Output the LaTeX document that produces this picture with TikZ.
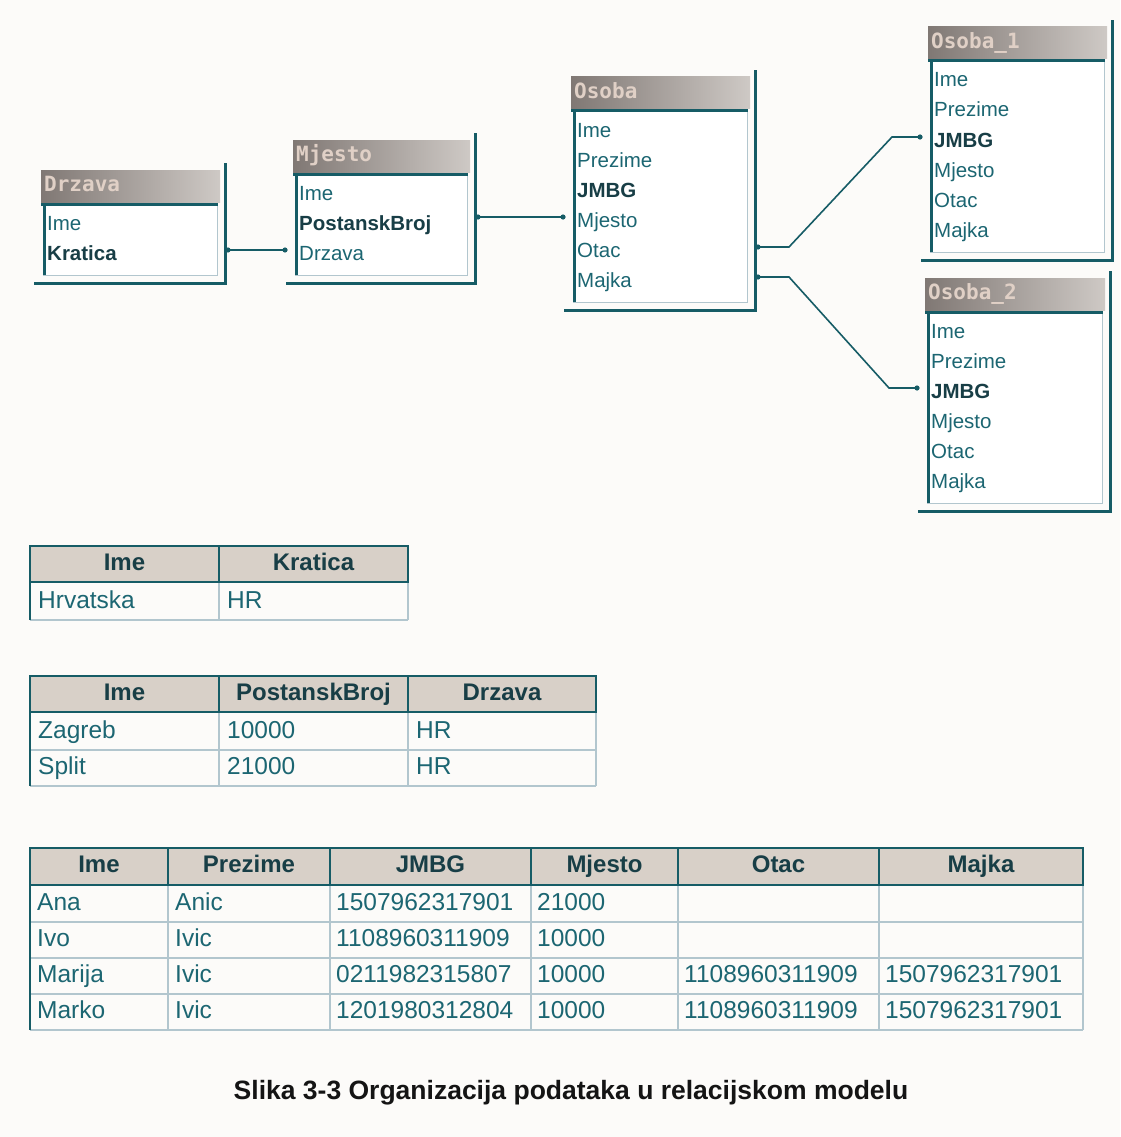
\documentclass[tikz,border=0pt]{standalone}
\usepackage{fontspec}
\setmainfont{Liberation Sans}
\newfontfamily\titlefont{DejaVu Sans Mono}
\usetikzlibrary{calc}
\definecolor{teal1}{RGB}{22,92,102}
\definecolor{txt}{RGB}{28,102,114}
\definecolor{txtb}{RGB}{24,62,70}
\definecolor{tbarL}{RGB}{128,120,116}
\definecolor{tbarR}{RGB}{206,201,197}
\definecolor{ttl}{RGB}{224,208,198}
\definecolor{hdr}{RGB}{216,208,200}
\definecolor{gridc}{RGB}{178,198,206}
\definecolor{bg}{RGB}{252,251,249}
\tikzset{
  frame/.style={teal1, line width=3},
  conn/.style={teal1, line width=1.6},
  boxtitle/.style={anchor=west, inner sep=1, text height=15, text depth=4, font=\titlefont\bfseries\fontsize{21}{24}\selectfont, text=ttl},
  boxrow/.style={anchor=west, inner sep=1, text height=14.5, text depth=4.5, font=\fontsize{20.5}{24}\selectfont, text=txt},
  hdrtxt/.style={inner sep=0, text height=17.5, text depth=5, font=\bfseries\fontsize{24}{28}\selectfont, text=txtb},
  datatxt/.style={anchor=west, inner sep=0, text height=17.5, text depth=5, font=\fontsize{24.5}{28}\selectfont, text=txt},
  hdrline/.style={teal1, line width=2.5},
  gridline/.style={gridc, line width=1.3},
}
\newcommand\erbox[7]{%
  \pgfmathsetmacro\ibot{#3+55+(#5-1)*30+20}%
  \fill[white] (#2,#3+33) rectangle (#4-8,\ibot);
  \draw[gridc,line width=1] (#2,\ibot) -- (#4-8,\ibot) -- (#4-8,#3+33);
  \shade[left color=tbarL,right color=tbarR] (#2-2,#3) rectangle (#4-5,#3+32);
  \node[boxtitle] (#1) at (#2,#3+16) {#6};
  \draw[frame] (#2-2,#3+34) -- (#4-7,#3+34);
  \draw[frame] (#2+1,#3+34) -- (#2+1,\ibot);
  \draw[frame] (#2-9,\ibot+8) -- (#4,\ibot+8) -- (#4,#3-7);
  \foreach \t/\b [count=\i] in {#7} {
    \node[boxrow] (#1-\i) at (#2+3,#3+55+\i*30-30) {\ifnum\b=1 \bfseries\color{txtb}\fi\t};
    \coordinate (#1-l\i) at (#2-10,#3+50+\i*30-30);
    \coordinate (#1-r\i) at (#4+3,#3+50+\i*30-30);
  }%
}
\begin{document}
\begin{tikzpicture}[x=1pt,y=-1pt]
\fill[bg] (0,0) rectangle (1120,1137);
\useasboundingbox (0,0) rectangle (1120,1137);

% ER boxes
\erbox{drzava}{43}{170}{225}{2}{Drzava}{Ime/0,Kratica/1}
\erbox{mjesto}{295}{140}{475}{3}{Mjesto}{Ime/0,PostanskBroj/1,Drzava/0}
\erbox{osoba}{573}{77}{755}{6}{Osoba}{Ime/0,Prezime/0,JMBG/1,Mjesto/0,Otac/0,Majka/0}
\erbox{osobaA}{930}{27}{1112}{6}{Osoba\_1}{Ime/0,Prezime/0,JMBG/1,Mjesto/0,Otac/0,Majka/0}
\erbox{osobaB}{927}{278}{1110}{6}{Osoba\_2}{Ime/0,Prezime/0,JMBG/1,Mjesto/0,Otac/0,Majka/0}

% connectors
\coordinate (mjout) at (osoba-l4 -| mjesto-r2);
\draw[conn] (drzava-r2) -- (mjesto-l3);
\draw[conn] (mjout) -- (osoba-l4);
\draw[conn] (osoba-r5) -- ++(31,0) -- ($(osobaA-l3)+(-28,0)$) -- (osobaA-l3);
\draw[conn] (osoba-r6) -- ++(31,0) -- ($(osobaB-l3)+(-28,0)$) -- (osobaB-l3);
\foreach \c in {drzava-r2,mjesto-l3,mjout,osoba-l4,osoba-r5,osobaA-l3,osoba-r6,osobaB-l3}
  \fill[teal1] (\c) circle[radius=2.6pt];

% Table 1
\fill[hdr] (30,546) rectangle (408,582);
\draw[gridline] (219,582) -- (219,620) (408,582) -- (408,620) (30,620) -- (408,620);
\draw[teal1,line width=2] (30,582) -- (30,620);
\draw[hdrline] (30,546) rectangle (408,582) (219,546) -- (219,582);
\node[hdrtxt] (t1h1) at (124.5,564) {Ime};
\node[hdrtxt] (t1h2) at (313.5,564) {Kratica};
\node[datatxt] (t1a) at (38,602) {Hrvatska};
\node[datatxt] (t1b) at (227,602) {HR};

% Table 2
\fill[hdr] (30,676) rectangle (596,712);
\draw[gridline] (219,712) -- (219,786) (408,712) -- (408,786) (596,712) -- (596,786)
  (30,750) -- (596,750) (30,786) -- (596,786);
\draw[teal1,line width=2] (30,712) -- (30,786);
\draw[hdrline] (30,676) rectangle (596,712) (219,676) -- (219,712) (408,676) -- (408,712);
\node[hdrtxt] (t2h1) at (124.5,694) {Ime};
\node[hdrtxt] (t2h2) at (313.5,694) {PostanskBroj};
\node[hdrtxt] (t2h3) at (502,694) {Drzava};
\node[datatxt] (t2a1) at (38,732) {Zagreb};
\node[datatxt] (t2a2) at (227,732) {10000};
\node[datatxt] (t2a3) at (416,732) {HR};
\node[datatxt] (t2b1) at (38,768) {Split};
\node[datatxt] (t2b2) at (227,768) {21000};
\node[datatxt] (t2b3) at (416,768) {HR};

% Table 3
\fill[hdr] (30,848) rectangle (1083,885);
\foreach \x in {168,330,531,678,879,1083} \draw[gridline] (\x,885) -- (\x,1030);
\foreach \y in {922,958,994,1030} \draw[gridline] (30,\y) -- (1083,\y);
\draw[teal1,line width=2] (30,885) -- (30,1030);
\draw[hdrline] (30,848) rectangle (1083,885);
\foreach \x in {168,330,531,678,879} \draw[hdrline] (\x,848) -- (\x,885);
\node[hdrtxt] (t3h1) at (99,866) {Ime};
\node[hdrtxt] (t3h2) at (249,866) {Prezime};
\node[hdrtxt] (t3h3) at (430.5,866) {JMBG};
\node[hdrtxt] (t3h4) at (604.5,866) {Mjesto};
\node[hdrtxt] (t3h5) at (778.5,866) {Otac};
\node[hdrtxt] (t3h6) at (981,866) {Majka};
\node[datatxt] (r1c1) at (37,904) {Ana};
\node[datatxt] (r1c2) at (175,904) {Anic};
\node[datatxt] (r1c3) at (336,904) {1507962317901};
\node[datatxt] (r1c4) at (537,904) {21000};
\node[datatxt] (r2c1) at (37,940) {Ivo};
\node[datatxt] (r2c2) at (175,940) {Ivic};
\node[datatxt] (r2c3) at (336,940) {1108960311909};
\node[datatxt] (r2c4) at (537,940) {10000};
\node[datatxt] (r3c1) at (37,976) {Marija};
\node[datatxt] (r3c2) at (175,976) {Ivic};
\node[datatxt] (r3c3) at (336,976) {0211982315807};
\node[datatxt] (r3c4) at (537,976) {10000};
\node[datatxt] (r3c5) at (684,976) {1108960311909};
\node[datatxt] (r3c6) at (885,976) {1507962317901};
\node[datatxt] (r4c1) at (37,1012) {Marko};
\node[datatxt] (r4c2) at (175,1012) {Ivic};
\node[datatxt] (r4c3) at (336,1012) {1201980312804};
\node[datatxt] (r4c4) at (537,1012) {10000};
\node[datatxt] (r4c5) at (684,1012) {1108960311909};
\node[datatxt] (r4c6) at (885,1012) {1507962317901};

% caption
\node[font=\bfseries\fontsize{26.5}{30}\selectfont, text=black!92] (caption) at (571,1093)
  {Slika 3-3 Organizacija podataka u relacijskom modelu};
\end{tikzpicture}
\end{document}
